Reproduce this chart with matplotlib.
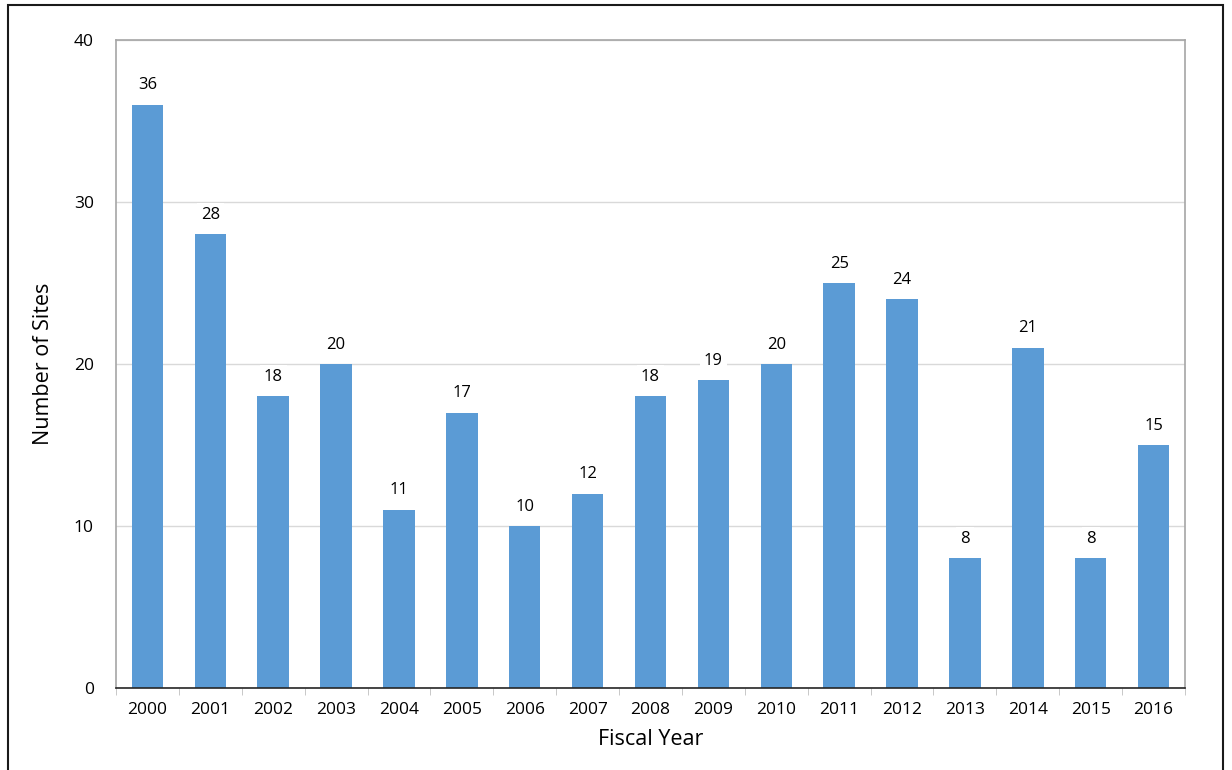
import matplotlib.pyplot as plt
from matplotlib.patches import Rectangle

years = ['2000', '2001', '2002', '2003', '2004', '2005', '2006', '2007', '2008',
         '2009', '2010', '2011', '2012', '2013', '2014', '2015', '2016']
sites = [36, 28, 18, 20, 11, 17, 10, 12, 18, 19, 20, 25, 24, 8, 21, 8, 15]
yticks = [0, 10, 20, 30, 40]

plt.rcParams['font.family'] = ['Open Sans', 'DejaVu Sans']

fig = plt.figure(figsize=(12.32, 7.7), dpi=100)
ax = fig.add_axes([116 / 1232, 1 - 688 / 770, (1185 - 116) / 1232, (688 - 40) / 770])

x = list(range(len(years)))
bars = ax.bar(x, sites, width=0.5, color='#5b9bd5', zorder=2)

for xi, v in zip(x, sites):
    ax.annotate(str(v), (xi, v), xytext=(0, 14), textcoords='offset points',
                ha='center', va='center', fontsize=12, zorder=4,
                bbox=dict(boxstyle='square,pad=0.25', fc='white', ec='none'))

ax.set_xlim(-0.5, len(years) - 0.5)
ax.set_ylim(0, 40)
ax.set_yticks(yticks)
ax.set_xticks(x)
ax.set_xticklabels(years)
ax.tick_params(axis='y', length=0, labelsize=12.5, pad=16)
ax.tick_params(axis='x', length=0, labelsize=12.5, pad=10)
# minor ticks between categories
ax.set_xticks([i - 0.5 for i in range(len(years) + 1)], minor=True)
ax.tick_params(axis='x', which='minor', length=5, color='#bfbfbf')

ax.yaxis.grid(True, color='#d9d9d9', linewidth=1, zorder=0)
ax.set_axisbelow(True)
for s in ['left', 'top', 'right']:
    ax.spines[s].set_color('#a6a6a6')
    ax.spines[s].set_linewidth(1.2)
ax.spines['bottom'].set_color('#262626')
ax.spines['bottom'].set_linewidth(1.2)

ax.set_xlabel('Fiscal Year', fontsize=15.5, labelpad=8)
ax.set_ylabel('Number of Sites', fontsize=15.5, labelpad=14)

# outer frame
fig.patches.append(Rectangle((8 / 1232, -0.05), (1223 - 8) / 1232, 1.05 - 5 / 770,
                             transform=fig.transFigure, fill=False,
                             edgecolor='#1a1a1a', linewidth=1.5))

fig.savefig('out.png', dpi=100)
